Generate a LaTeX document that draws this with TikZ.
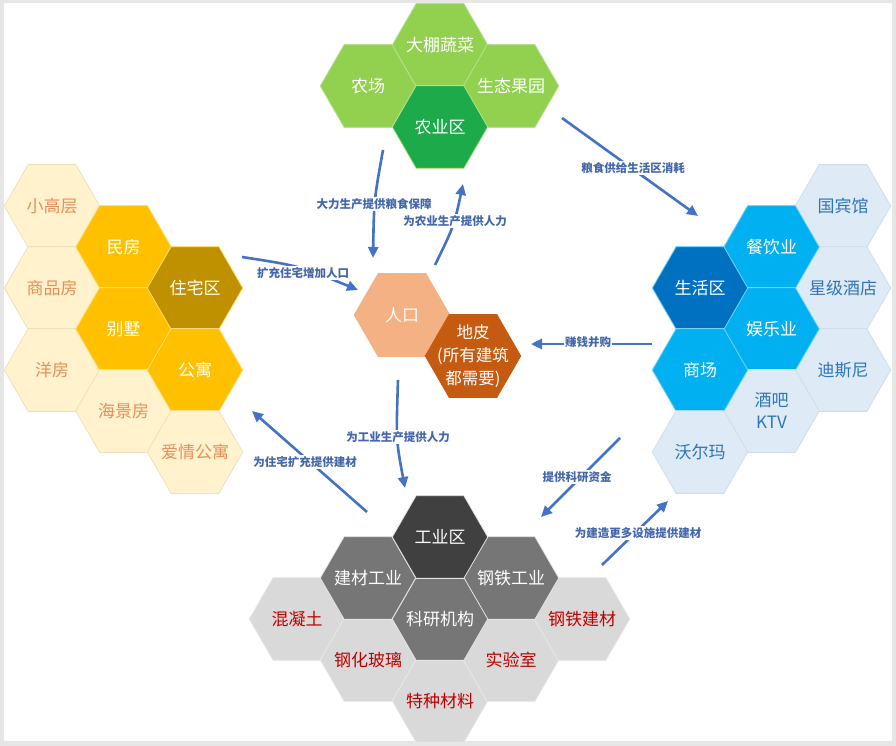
\documentclass[tikz,border=0pt]{standalone}
\usepackage{fontspec}
\setmainfont{Noto Sans CJK SC}
\usetikzlibrary{shapes.geometric,arrows.meta}
\definecolor{frameC}{HTML}{E6E6E6}
\definecolor{gA}{HTML}{92D050}
\definecolor{gB}{HTML}{1DAA4B}
\definecolor{yP}{HTML}{FFF2CC}
\definecolor{yM}{HTML}{FFC000}
\definecolor{yC}{HTML}{BF9000}
\definecolor{yT}{HTML}{E4905A}
\definecolor{bP}{HTML}{DEEBF7}
\definecolor{bM}{HTML}{00B0F0}
\definecolor{bC}{HTML}{0070C0}
\definecolor{bT}{HTML}{2E75B6}
\definecolor{kC}{HTML}{404040}
\definecolor{kM}{HTML}{767676}
\definecolor{kP}{HTML}{D9D9D9}
\definecolor{kT}{HTML}{C00000}
\definecolor{oL}{HTML}{F4B183}
\definecolor{oD}{HTML}{C55A11}
\definecolor{arr}{HTML}{4472C4}
\definecolor{lab}{HTML}{4466AA}
\tikzset{
  hex/.style={regular polygon, regular polygon sides=6, minimum size=95.5pt,
    inner sep=0pt, outer sep=0pt, line width=0.8pt},
  htxt/.style={inner sep=0pt, align=center, font=\fontsize{17}{22}\selectfont},
  hexGa/.style={hex, fill=gA, draw=gA!65!white},
  hexGb/.style={hex, fill=gB, draw=gA!65!white},
  hexYp/.style={hex, fill=yP, draw=yP!93!black},
  hexYm/.style={hex, fill=yM, draw=yM!55!white},
  hexYc/.style={hex, fill=yC, draw=yM!55!white},
  hexBp/.style={hex, fill=bP, draw=bP!94!black},
  hexBm/.style={hex, fill=bM, draw=bM!55!white},
  hexBc/.style={hex, fill=bC, draw=bM!55!white},
  hexKp/.style={hex, fill=kP, draw=kP!60!white},
  hexKm/.style={hex, fill=kM, draw=kP!70!white},
  hexKc/.style={hex, fill=kC, draw=kP!70!white},
  hexOl/.style={hex, fill=oL, draw=oL},
  hexOd/.style={hex, fill=oD, draw=oD},
  centertext/.style={text=white, align=center, inner sep=0pt,
    font=\fontsize{16.5}{23}\selectfont},
  arw/.style={draw=arr, line width=2.6pt, -{Triangle[length=11pt,width=10pt]}},
  lbl/.style={font=\bfseries\fontsize{11.5}{13}\selectfont, text=lab, fill=white, inner sep=1.2pt},
}
% \hexcell{name}{x,y}{hex style}{text colour}{text}
\newcommand\hexcell[5]{%
  \node[#3] (#1) at (#2) {};
  \node[htxt, text=#4] (#1-t) at (#1.center) {#5};}
\begin{document}
\begin{tikzpicture}[x=1pt,y=-1pt]
\useasboundingbox (0,0) rectangle (896,746);
\fill[frameC] (0,0) rectangle (896,746);
\fill[white] (4,3) rectangle (892,741);

% agricultural cluster
\hexcell{dapeng}{440,45}{hexGa}{white}{大棚蔬菜}
\hexcell{nongchang}{368,86}{hexGa}{white}{农场}
\hexcell{shengtai}{511,86}{hexGa}{white}{生态果园}
\hexcell{nongye}{440,127}{hexGb}{white}{农业区}

% residential cluster
\hexcell{xiaogao}{52,206}{hexYp}{yT}{小高层}
\hexcell{shangpin}{52,288}{hexYp}{yT}{商品房}
\hexcell{yangfang}{52,370}{hexYp}{yT}{洋房}
\hexcell{minfang}{123.5,247}{hexYm}{white}{民房}
\hexcell{bieshu}{123.5,329}{hexYm}{white}{别墅}
\hexcell{haijing}{123.5,411}{hexYp}{yT}{海景房}
\hexcell{zhuzhai}{195,288}{hexYc}{white}{住宅区}
\hexcell{gongyu}{195,370}{hexYm}{white}{公寓}
\hexcell{aiqing}{195,452}{hexYp}{yT}{爱情公寓}

% living cluster
\hexcell{guobin}{843,206}{hexBp}{bT}{国宾馆}
\hexcell{xingji}{843,288}{hexBp}{bT}{星级酒店}
\hexcell{disini}{843,370}{hexBp}{bT}{迪斯尼}
\hexcell{canyin}{771.5,247}{hexBm}{white}{餐饮业}
\hexcell{yule}{771.5,329}{hexBm}{white}{娱乐业}
\hexcell{jiuba}{771.5,411}{hexBp}{bT}{酒吧\\KTV}
\hexcell{shenghuo}{700,288}{hexBc}{white}{生活区}
\hexcell{shangchang}{700,370}{hexBm}{white}{商场}
\hexcell{woerma}{700,452}{hexBp}{bT}{沃尔玛}

% industrial cluster
\hexcell{hunning}{297,619}{hexKp}{kT}{混凝土}
\hexcell{ganghua}{368,660}{hexKp}{kT}{钢化玻璃}
\hexcell{tezhong}{440,701}{hexKp}{kT}{特种材料}
\hexcell{shiyan}{511,660}{hexKp}{kT}{实验室}
\hexcell{gangtiejc}{582,619}{hexKp}{kT}{钢铁建材}
\hexcell{jiancai}{368,578}{hexKm}{white}{建材工业}
\hexcell{gangtie}{511,578}{hexKm}{white}{钢铁工业}
\hexcell{keyan}{440,619}{hexKm}{white}{科研机构}
\hexcell{gongye}{440,537}{hexKc}{white}{工业区}

% center
\hexcell{renkou}{402,315}{hexOl}{white}{人口}
\node[hexOd] (dipi) at (473,356) {};
\node[centertext] (dipi-t) at (dipi.center) {地皮\\(所有建筑\\都需要)};

% arrow end points
\coordinate (a1s) at (383,150); \coordinate (a1e) at (373,258);
\coordinate (a2s) at (435,265); \coordinate (a2e) at (463,184);
\coordinate (a3s) at (242,257); \coordinate (a3e) at (358,290);
\coordinate (a4s) at (652,344); \coordinate (a4e) at (531,344);
\coordinate (a5s) at (398,380); \coordinate (a5e) at (405,488);
\coordinate (a6s) at (367,512); \coordinate (a6e) at (252,411);
\coordinate (a7s) at (620,438); \coordinate (a7e) at (541,517);
\coordinate (a8s) at (602,565); \coordinate (a8e) at (668,501);
\coordinate (a9s) at (562,118); \coordinate (a9e) at (698,216);

% arrows
\draw[arw] (a1s) .. controls (374,200) .. (a1e);
\draw[arw] (a2s) .. controls (454,226) .. (a2e);
\draw[arw] (a3s) .. controls (300,266) .. (a3e);
\draw[arw] (a4s) -- (a4e);
\draw[arw] (a5s) .. controls (396,440) .. (a5e);
\draw[arw] (a6s) -- (a6e);
\draw[arw] (a7s) -- (a7e);
\draw[arw] (a8s) -- (a8e);
\draw[arw] (a9s) -- (a9e);

% labels
\node[lbl] (l1) at (374,204) {大力生产提供粮食保障};
\node[lbl] (l2) at (455,221) {为农业生产提供人力};
\node[lbl] (l3) at (303,273) {扩充住宅增加人口};
\node[lbl] (l4) at (588,342) {赚钱并购};
\node[lbl] (l5) at (398,437) {为工业生产提供人力};
\node[lbl] (l6) at (305,462) {为住宅扩充提供建材};
\node[lbl] (l7) at (577,477) {提供科研资金};
\node[lbl] (l8) at (638,533) {为建造更多设施提供建材};
\node[lbl] (l9) at (633,168) {粮食供给生活区消耗};
\end{tikzpicture}
\end{document}
